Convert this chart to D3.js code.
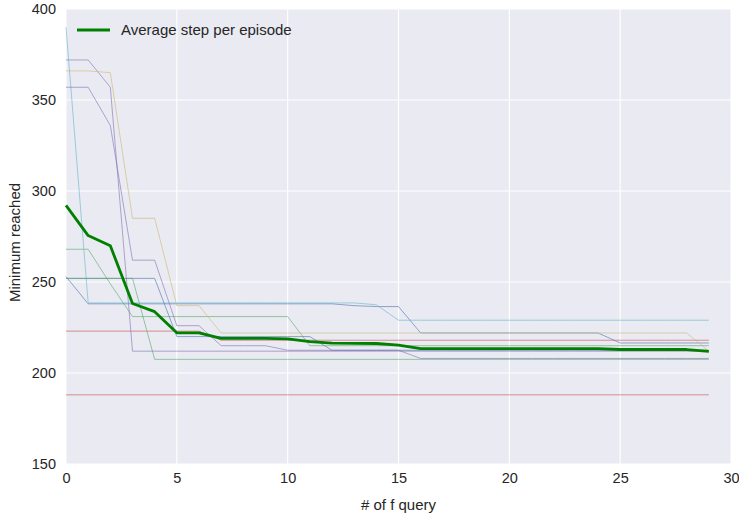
<!DOCTYPE html>
<html>
<head>
<meta charset="utf-8">
<script src="https://cdn.jsdelivr.net/npm/d3@7"></script>
<style>
  html, body { margin: 0; padding: 0; background: #ffffff; }
  svg { display: block; }
  text { font-family: "Liberation Sans", Arial, sans-serif; fill: #262626; }
</style>
</head>
<body>
<svg id="chart" width="739" height="517"></svg>
<script>
// ---- data ----
const queries = d3.range(0, 30);           // x positions 0..29
const xTicks = [0, 5, 10, 15, 20, 25, 30];
const yTicks = [150, 200, 250, 300, 350, 400];

const runBlueA   = [253,238,238,238,238,238,238,238,238,238,238,238,238,237,236.5,236.5,222,222,222,222,222,222,222,222,222,216.5,216.5,216.5,216.5,216.5];
const runGreenA  = [268,268,249,231,231,231,231,231,231,231,231,215,215,215,215,215,215,215,215,215,215,215,215,215,215,215,215,215,215,215];
const runRedA    = [223,223,223,223,223,223,223,218,218,218,218,218,218,218,218,218,218,218,218,218,218,218,218,218,218,218,218,218,218,218];
const runPurpleA = [372,372,357,212,212,212,212,212,212,212,212,212,212,212,212,212,212,212,212,212,212,212,212,212,212,212,212,212,212,212];
const runYellow  = [366,366,365,285,285,237,237,222,222,222,222,222,222,222,222,222,222,222,222,222,222,222,222,222,222,222,222,222,222,212];
const runCyan    = [390,238.5,238.5,238.5,238.5,238.5,238.5,238.5,238.5,238.5,238.5,238.5,238.5,238.5,237.5,229,229,229,229,229,229,229,229,229,229,229,229,229,229,229];
const runBlueB   = [252,252,252,252,252,220,220,220,220,220,220,220,212.5,212.5,212.5,212.5,212.5,212.5,212.5,212.5,212.5,212.5,212.5,212.5,212.5,212.5,212.5,212.5,212.5,212.5];
const runGreenB  = [252,252,252,252,207.5,207.5,207.5,207.5,207.5,207.5,207.5,207.5,207.5,207.5,207.5,207.5,207.5,207.5,207.5,207.5,207.5,207.5,207.5,207.5,207.5,207.5,207.5,207.5,207.5,207.5];
const runRedB    = [188,188,188,188,188,188,188,188,188,188,188,188,188,188,188,188,188,188,188,188,188,188,188,188,188,188,188,188,188,188];
const runPurpleB = [357,357,336,262,262,226,226,215,215,215,212.5,212.5,212.5,212.5,212.5,212.5,208,208,208,208,208,208,208,208,208,208,208,208,208,208];

const averageStep = [292.1,275.5,269.9,238.2,233.7,222.1,222.1,219.0,219.0,219.0,218.8,217.2,216.4,216.3,216.2,215.3,213.4,213.4,213.4,213.4,213.4,213.4,213.4,213.4,213.4,212.9,212.9,212.9,212.9,211.9];

const runs = [runBlueA, runGreenA, runRedA, runPurpleA, runYellow, runCyan, runBlueB, runGreenB, runRedB, runPurpleB];
const palette = ["#4C72B0", "#55A868", "#C44E52", "#8172B2", "#CCB974", "#64B5CD"];

const legendLabel = "Average step per episode";
const xLabel = "# of f query";
const yLabel = "Minimum reached";

// ---- layout ----
const W = 739, H = 517;
const margin = { left: 66, right: 8, top: 9, bottom: 53 };
const svg = d3.select("#chart");
const iw = W - margin.left - margin.right;
const ih = H - margin.top - margin.bottom;
const g = svg.append("g").attr("transform", `translate(${margin.left},${margin.top})`);

const x = d3.scaleLinear().domain([0, 30]).range([0, iw]);
const y = d3.scaleLinear().domain([150, 400]).range([ih, 0]);

g.append("rect").attr("width", iw).attr("height", ih).attr("fill", "#EAEAF2");

// grid
g.append("g").selectAll("line").data(xTicks).join("line")
  .attr("x1", d => x(d)).attr("x2", d => x(d)).attr("y1", 0).attr("y2", ih)
  .attr("stroke", "#ffffff").attr("stroke-width", 1.1);
g.append("g").selectAll("line").data(yTicks).join("line")
  .attr("y1", d => y(d)).attr("y2", d => y(d)).attr("x1", 0).attr("x2", iw)
  .attr("stroke", "#ffffff").attr("stroke-width", 1.1);

// axes (labels only, seaborn darkgrid has no tick marks / spines)
const xAxis = g.append("g").attr("transform", `translate(0,${ih})`)
  .call(d3.axisBottom(x).tickValues(xTicks).tickSize(0).tickPadding(9).tickFormat(d3.format("d")));
const yAxis = g.append("g")
  .call(d3.axisLeft(y).tickValues(yTicks).tickSize(0).tickPadding(10).tickFormat(d3.format("d")));
[xAxis, yAxis].forEach(a => {
  a.select(".domain").remove();
  a.selectAll("text").attr("font-size", 14.5).attr("fill", "#262626")
    .attr("font-family", '"Liberation Sans", Arial, sans-serif');
});

// run lines
const line = d3.line().x((d, i) => x(queries[i])).y(d => y(d));
g.append("g").selectAll("path").data(runs).join("path")
  .attr("d", d => line(d))
  .attr("fill", "none")
  .attr("stroke", (d, i) => palette[i % palette.length])
  .attr("stroke-opacity", 0.6)
  .attr("stroke-width", 1);

// average line
g.append("path").attr("d", line(averageStep))
  .attr("fill", "none").attr("stroke", "#008000").attr("stroke-width", 2.8)
  .attr("stroke-linejoin", "round");

// legend
const lg = g.append("g").attr("transform", "translate(11,21)");
lg.append("line").attr("x1", 0).attr("x2", 33).attr("y1", 0).attr("y2", 0)
  .attr("stroke", "#008000").attr("stroke-width", 2.8);
lg.append("text").attr("x", 44).attr("y", 0).attr("dy", "0.35em")
  .attr("font-size", 15).text(legendLabel);

// axis labels
svg.append("text").attr("x", margin.left + iw / 2).attr("y", 510)
  .attr("text-anchor", "middle").attr("font-size", 15).text(xLabel);
svg.append("text").attr("transform", `translate(20,${margin.top + ih / 2 + 6}) rotate(-90)`)
  .attr("text-anchor", "middle").attr("font-size", 15).text(yLabel);
</script>
</body>
</html>
